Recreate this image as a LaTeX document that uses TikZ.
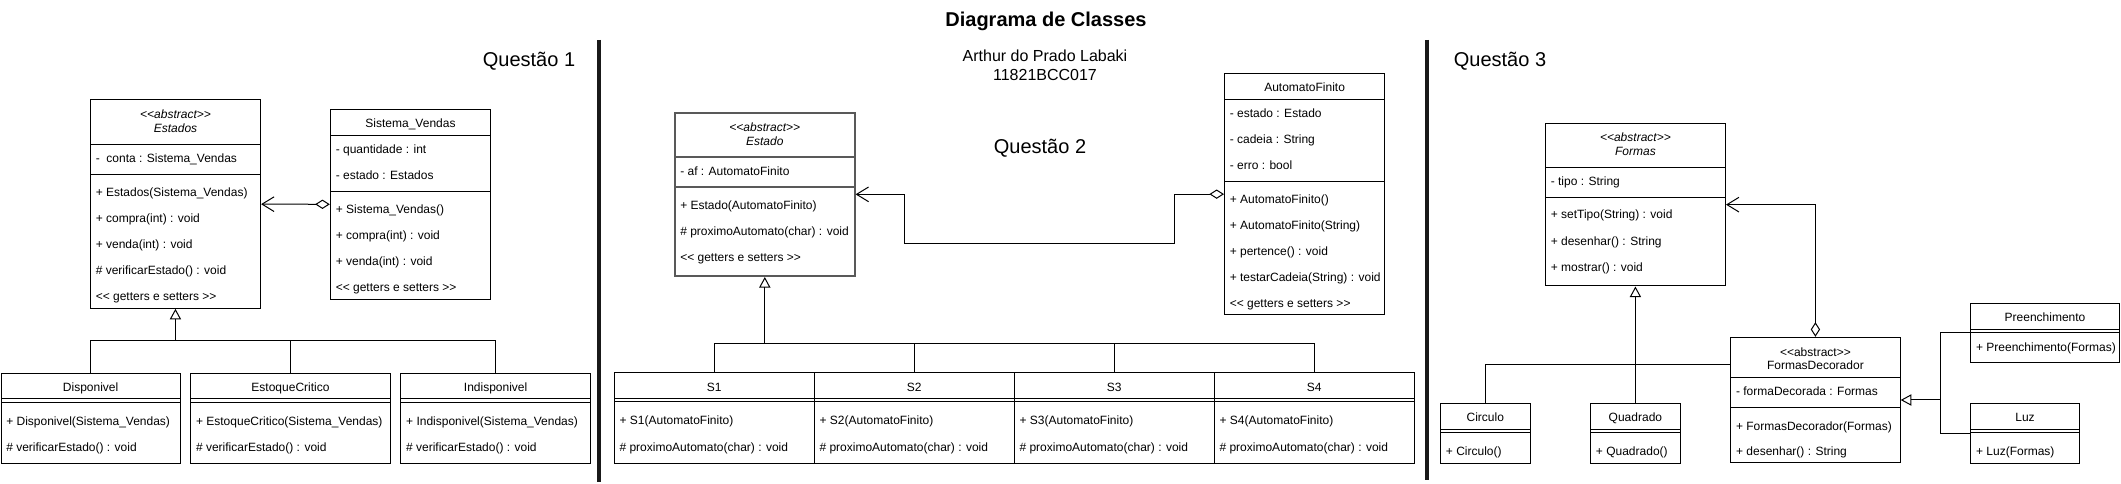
\documentclass[tikz,border=0pt]{standalone}
\usepackage{fontspec}
\setmainfont{Liberation Sans}[Ligatures=TeXOff]
\usetikzlibrary{arrows.meta,fit}

\begin{document}
\begin{tikzpicture}[x=0.75pt,y=-0.75pt,
	box/.style={draw, line width=0.75pt, inner sep=0pt, fill=white},
	graybox/.style={draw=black!65, line width=1.5pt, inner sep=0pt, fill=white},
	mtext/.style={anchor=west, inner sep=0pt, font=\fontsize{9}{10}\selectfont, text height=6.5pt, text depth=0pt},
	ctext/.style={inner sep=0pt, font=\fontsize{9}{10}\selectfont, text height=6.5pt, text depth=0pt},
	big/.style={inner sep=0pt, font=\fontsize{15}{18}\selectfont, text height=10.75pt, text depth=0pt},
	sep/.style={line width=0.75pt},
	divider/.style={line width=3pt, color=black!90},
	agg/.style={line width=0.75pt, {Diamond[open, length=11pt, width=7pt]}-{Straight Barb[length=9pt, width=11pt]}},
	inh/.style={line width=0.75pt, -{Triangle[open, length=8pt, width=8.5pt]}}]
	\fill[white] (0,0) rectangle (2121,484);
	\useasboundingbox (0,0) rectangle (2121,484);
	% TITLES
	\node (titulo) at (1046,19) [inner sep=0pt, font=\bfseries\fontsize{15}{18}\selectfont, text height=10.75pt, text depth=0pt] {Diagrama de Classes};
	\node (q1) at (529,59) [big] {Questão 1};
	\node (q2) at (1040,146) [big] {Questão 2};
	\node (q3) at (1500,59) [big] {Questão 3};
	\node (autor) at (1045,56) [inner sep=0pt, font=\fontsize{12}{14}\selectfont, text height=8.6pt, text depth=0pt] {Arthur do Prado Labaki};
	\node (matricula) at (1045,75) [inner sep=0pt, font=\fontsize{12}{14}\selectfont, text height=8.6pt, text depth=0pt] {11821BCC017};
	% DIVIDERS
	\draw[divider] (599,40) -- (599,482);
	\draw[divider] (1427,40) -- (1427,480);

	% QUESTAO 1 BOXES
	\node (estados) [box, fit={(90.3,100) (260.6,308.3)}] {};
	\node (sv) [box, fit={(330.3,109.3) (490.6,299.3)}] {};
	\node (disp) [box, fit={(1,373.3) (180.3,463.3)}] {};
	\node (estq) [box, fit={(190.6,373.3) (390.4,463.3)}] {};
	\node (indisp) [box, fit={(400.7,373.3) (590.5,463.3)}] {};
	\draw[sep] (90.3,144.3) -- (260.6,144.3); \draw[sep] (90.3,174.3) -- (260.6,174.3);
	\draw[sep] (330.3,135.3) -- (490.6,135.3); \draw[sep] (330.3,191.7) -- (490.6,191.7);
	\draw[sep] (1,399) -- (180.3,399); \draw[sep] (1,402.3) -- (180.3,402.3);
	\draw[sep] (190.6,399) -- (390.4,399); \draw[sep] (190.6,402.3) -- (390.4,402.3);
	\draw[sep] (400.7,399) -- (590.5,399); \draw[sep] (400.7,402.3) -- (590.5,402.3);
	% QUESTAO 1 TEXTS
	\node (e0) at (175.5,113.7) [ctext, font=\itshape\fontsize{9}{10}\selectfont] {<<abstract>>};
	\node (e1) at (175.5,127.7) [ctext, font=\itshape\fontsize{9}{10}\selectfont] {Estados};
	\node (e2) at (95.5,157.7) [mtext] {-~~conta : Sistema\_Vendas};
	\node (e3) at (95.5,191.7) [mtext] {+ Estados(Sistema\_Vendas)};
	\node (e4) at (95.5,217.7) [mtext] {+ compra(int) : void};
	\node (e5) at (95.5,243.7) [mtext] {+ venda(int) : void};
	\node (e6) at (95.5,269.7) [mtext] {\# verificarEstado() : void};
	\node (e7) at (95.5,295.7) [mtext] {<< getters e setters >>};

	\node (v1) at (410.5,122.7) [ctext] {Sistema\_Vendas};
	\node (v2) at (335.5,148.7) [mtext] {- quantidade : int};
	\node (v3) at (335.5,174.7) [mtext] {- estado : Estados};
	\node (v4) at (335.5,208.7) [mtext] {+ Sistema\_Vendas()};
	\node (v5) at (335.5,234.7) [mtext] {+ compra(int) : void};
	\node (v6) at (335.5,260.7) [mtext] {+ venda(int) : void};
	\node (v7) at (335.5,286.7) [mtext] {<< getters e setters >>};

	\node (d1) at (90.65,386.7) [ctext] {Disponivel};
	\node (d2) at (6,420.7) [mtext] {+ Disponivel(Sistema\_Vendas)};
	\node (d3) at (6,446.7) [mtext] {\# verificarEstado() : void};
	\node (c1) at (290.5,386.7) [ctext] {EstoqueCritico};
	\node (c2) at (195.8,420.7) [mtext] {+ EstoqueCritico(Sistema\_Vendas)};
	\node (c3) at (195.8,446.7) [mtext] {\# verificarEstado() : void};
	\node (i1) at (495.6,386.7) [ctext] {Indisponivel};
	\node (i2) at (405.9,420.7) [mtext] {+ Indisponivel(Sistema\_Vendas)};
	\node (i3) at (405.9,446.7) [mtext] {\# verificarEstado() : void};
	% QUESTAO 1 LINKS
	\coordinate (q1bar) at (estados.south |- 0,341);
	\draw[agg] (sv.west) -- (estados.east);
	\draw[inh] (disp.north) |- (q1bar) -- (estados.south);
	\draw[sep] (estq.north) |- (q1bar);
	\draw[sep] (indisp.north) |- (q1bar);

	% QUESTAO 2 BOXES
	\node (estado) [graybox, fit={(675,112.7) (854.6,276)}] {};
	\node (af) [box, fit={(1224.5,73.3) (1384.7,315)}] {};
	\node (s1) [box, fit={(614.3,372.7) (814.3,463.3)}] {};
	\node (s2) [box, fit={(814.3,372.7) (1014.3,463.3)}] {};
	\node (s3) [box, fit={(1014.3,372.7) (1214.3,463.3)}] {};
	\node (s4) [box, fit={(1214.3,372.7) (1414.3,463.3)}] {};
	\draw[draw=black!65, line width=1.5pt] (675,156.7) -- (854.6,156.7); \draw[draw=black!65, line width=1.5pt] (675,186.7) -- (854.6,186.7);
	\draw[sep] (1224.5,99.3) -- (1384.7,99.3); \draw[sep] (1224.5,181.7) -- (1384.7,181.7);
	\draw[sep] (614.3,399) -- (1414.3,399); \draw[sep] (614.3,401.7) -- (1414.3,401.7);
	% QUESTAO 2 TEXTS
	\node (t0) at (764.8,127) [ctext, font=\itshape\fontsize{9}{10}\selectfont] {<<abstract>>};
	\node (t1) at (764.8,141) [ctext, font=\itshape\fontsize{9}{10}\selectfont] {Estado};
	\node (t2) at (680,171) [mtext] {- af : AutomatoFinito};
	\node (t3) at (680,204.7) [mtext] {+ Estado(AutomatoFinito)};
	\node (t4) at (680,230.7) [mtext] {\# proximoAutomato(char) : void};
	\node (t5) at (680,256.7) [mtext] {<< getters e setters >>};

	\node (a1) at (1304.6,86.7) [ctext] {AutomatoFinito};
	\node (a2) at (1229.5,113) [mtext] {- estado : Estado};
	\node (a3) at (1229.5,139) [mtext] {- cadeia : String};
	\node (a4) at (1229.5,165) [mtext] {- erro : bool};
	\node (a5) at (1229.5,199) [mtext] {+ AutomatoFinito()};
	\node (a6) at (1229.5,225) [mtext] {+ AutomatoFinito(String)};
	\node (a7) at (1229.5,250.7) [mtext] {+ pertence() : void};
	\node (a8) at (1229.5,276.7) [mtext] {+ testarCadeia(String) : void};
	\node (a9) at (1229.5,302.7) [mtext] {<< getters e setters >>};

	\node (s1a) at (714.3,386.7) [ctext] {S1};
	\node (s1b) at (619.3,420) [mtext] {+ S1(AutomatoFinito)};
	\node (s1c) at (619.3,446.7) [mtext] {\# proximoAutomato(char) : void};
	\node (s2a) at (914.3,386.7) [ctext] {S2};
	\node (s2b) at (819.3,420) [mtext] {+ S2(AutomatoFinito)};
	\node (s2c) at (819.3,446.7) [mtext] {\# proximoAutomato(char) : void};
	\node (s3a) at (1114.3,386.7) [ctext] {S3};
	\node (s3b) at (1019.3,420) [mtext] {+ S3(AutomatoFinito)};
	\node (s3c) at (1019.3,446.7) [mtext] {\# proximoAutomato(char) : void};
	\node (s4a) at (1314.3,386.7) [ctext] {S4};
	\node (s4b) at (1219.3,420) [mtext] {+ S4(AutomatoFinito)};
	\node (s4c) at (1219.3,446.7) [mtext] {\# proximoAutomato(char) : void};
	% QUESTAO 2 LINKS
	\coordinate (q2a) at (1174.5,243.3);
	\coordinate (q2b) at (904.6,243.3);
	\coordinate (q2bar) at (estado.south |- 0,343.3);
	\draw[agg] (af.west) -| (q2a) -- (q2b) |- (estado.east);
	\draw[inh] (s1.north) |- (q2bar) -- (estado.south);
	\draw[sep] (s2.north) |- (q2bar);
	\draw[sep] (s3.north) |- (q2bar);
	\draw[sep] (s4.north) |- (q2bar);

	% QUESTAO 3 BOXES
	\node (formas) [box, fit={(1545.3,123.3) (1725.5,286)}] {};
	\node (fd) [box, fit={(1730.6,337.3) (1900.2,462.7)}] {};
	\node (circ) [box, fit={(1440.5,403.3) (1530.1,463.3)}] {};
	\node (quad) [box, fit={(1590.5,403.3) (1680.3,463.3)}] {};
	\node (pre) [box, fit={(1970.6,303.3) (2119.5,362.7)}] {};
	\node (luz) [box, fit={(1970.6,403.3) (2079.5,463.3)}] {};
	\draw[sep] (1545.3,167.3) -- (1725.5,167.3); \draw[sep] (1545.3,197.3) -- (1725.5,197.3);
	\draw[sep] (1730.6,377.7) -- (1900.2,377.7); \draw[sep] (1730.6,407.7) -- (1900.2,407.7);
	\draw[sep] (1440.5,429.3) -- (1530.1,429.3); \draw[sep] (1440.5,432.7) -- (1530.1,432.7);
	\draw[sep] (1590.5,429.3) -- (1680.3,429.3); \draw[sep] (1590.5,432.7) -- (1680.3,432.7);
	\draw[sep] (1970.6,429.3) -- (2079.5,429.3); \draw[sep] (1970.6,432.7) -- (2079.5,432.7);
	\draw[sep] (1970.6,329.3) -- (2119.5,329.3); \draw[sep] (1970.6,332.7) -- (2119.5,332.7);
	% QUESTAO 3 TEXTS
	\node (f0) at (1635.4,136.7) [ctext, font=\itshape\fontsize{9}{10}\selectfont] {<<abstract>>};
	\node (f1) at (1635.4,150.7) [ctext, font=\itshape\fontsize{9}{10}\selectfont] {Formas};
	\node (f2) at (1550.5,181) [mtext] {- tipo : String};
	\node (f3) at (1550.5,214.3) [mtext] {+ setTipo(String) : void};
	\node (f4) at (1550.5,240.7) [mtext] {+ desenhar() : String};
	\node (f5) at (1550.5,266.7) [mtext] {+ mostrar() : void};

	\node (g0) at (1815.4,351.7) [ctext] {<<abstract>>};
	\node (g1) at (1815.4,365.3) [ctext] {FormasDecorador};
	\node (g2) at (1735.8,391.3) [mtext] {- formaDecorada : Formas};
	\node (g3) at (1735.8,426) [mtext] {+ FormasDecorador(Formas)};
	\node (g4) at (1735.8,451) [mtext] {+ desenhar() : String};

	\node (h1) at (1485.3,417.3) [ctext] {Circulo};
	\node (h2) at (1445.7,450.7) [mtext] {+ Circulo()};
	\node (k1) at (1635.4,417.3) [ctext] {Quadrado};
	\node (k2) at (1595.7,450.7) [mtext] {+ Quadrado()};
	\node (p1) at (2045,317.3) [ctext] {Preenchimento};
	\node (p2) at (1975.8,346.7) [mtext] {+ Preenchimento(Formas)};
	\node (l1) at (2025,417.3) [ctext] {Luz};
	\node (l2) at (1975.8,450.7) [mtext] {+ Luz(Formas)};
	% QUESTAO 3 LINKS
	\coordinate (q3join) at (fd.west |- 0,364.3);
	\coordinate (q3dec) at (1940.2,400);
	\draw[agg] (fd.north) |- (formas.east);
	\draw[inh] (quad.north) -- (formas.south);
	\draw[sep] (circ.north) |- (q3join);
	\draw[inh] (pre.west) -| (q3dec) -- (fd.east);
	\draw[sep] (luz.west) -| (q3dec);
\end{tikzpicture}
\end{document}
